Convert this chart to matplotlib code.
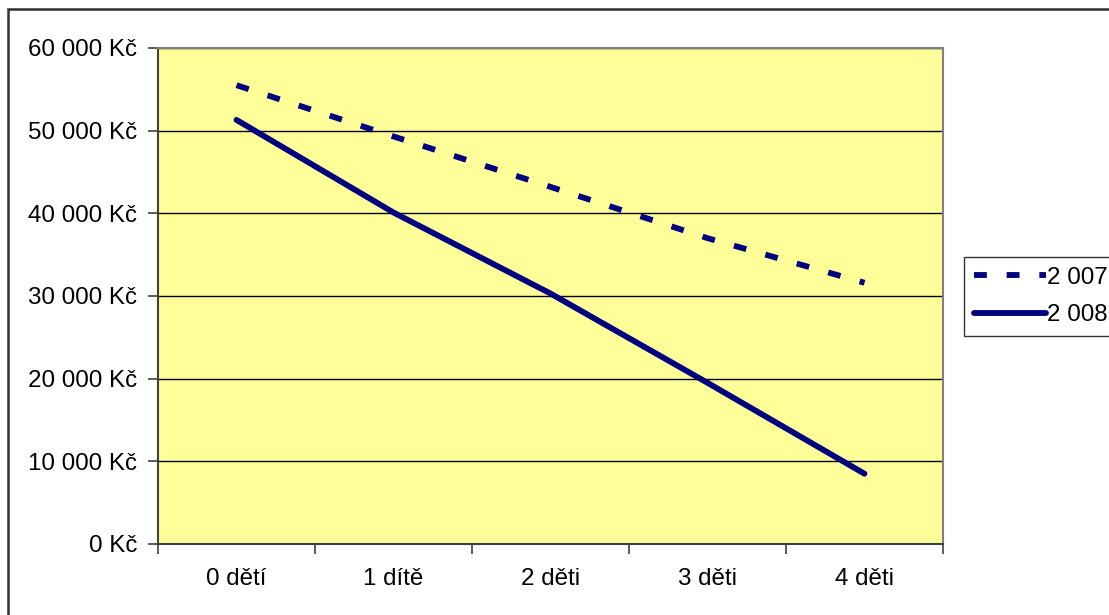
import matplotlib.pyplot as plt
from matplotlib.patches import Rectangle
from matplotlib.ticker import FuncFormatter, FixedLocator

# data
kategorie = ['0 dětí', '1 dítě', '2 děti', '3 děti', '4 děti']
rok_2007 = [55500, 49300, 43200, 37000, 31600]
rok_2008 = [51300, 40100, 30300, 19500, 8500]

plt.rcParams['font.family'] = ['Liberation Sans', 'DejaVu Sans']

fig = plt.figure(figsize=(11.09, 6.15), dpi=100)
ax = fig.add_axes([158 / 1109, 71 / 615, 785 / 1109, 496 / 615])
ax.set_facecolor('#FFFF99')

x = range(len(kategorie))
ax.plot(x, rok_2007, color='#000080', lw=4.2, dashes=(2.2, 3.4),
        dash_capstyle='butt', label='2 007')
ax.plot(x, rok_2008, color='#000080', lw=4.2, solid_capstyle='round',
        label='2 008')

ax.set_xlim(-0.5, len(kategorie) - 0.5)
ax.set_ylim(0, 60000)
ax.set_yticks(range(0, 60001, 10000))
ax.yaxis.set_major_formatter(FuncFormatter(lambda v, p: f'{int(v):,} Kč'.replace(',', ' ')))
ax.set_xticks(list(x))
ax.set_xticklabels(kategorie)
ax.xaxis.set_minor_locator(FixedLocator([i - 0.5 for i in range(len(kategorie) + 1)]))

ax.tick_params(axis='y', length=7, width=1.2, color='#404040', pad=8, labelsize=17.4)
ax.tick_params(axis='x', which='major', length=0, pad=17, labelsize=17.4)
ax.tick_params(axis='x', which='minor', length=7, width=1.2, color='#404040')

ax.grid(axis='y', color='black', lw=1)
ax.set_axisbelow(True)
for s in ['left', 'bottom']:
    ax.spines[s].set_color('#404040')
    ax.spines[s].set_linewidth(1.5)
for s in ['top', 'right']:
    ax.spines[s].set_color('#808080')
    ax.spines[s].set_linewidth(1.5)

# legenda
leg = fig.legend(loc='upper left', bbox_to_anchor=(964 / 1109, 1 - 257 / 615),
                 fontsize=17.4, handlelength=3.0, handletextpad=0.05,
                 borderpad=0.4, labelspacing=0.65, borderaxespad=0, fancybox=False)
leg.get_frame().set_edgecolor('black')
leg.get_frame().set_linewidth(1)

# ramecek grafu
fig.patches.append(Rectangle((8 / 1109, -0.1), 1.2, 1 - 9 / 615 + 0.1,
                             transform=fig.transFigure, fill=False,
                             edgecolor='#303030', lw=1.8))

fig.savefig('out.png', dpi=100)
